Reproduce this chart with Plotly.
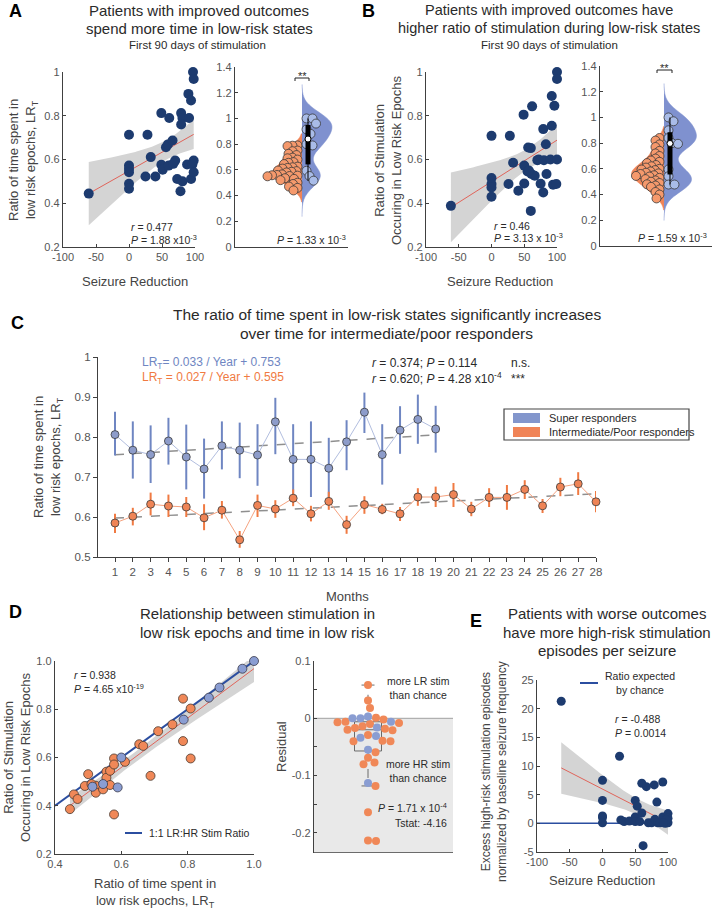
import numpy as np
import plotly.graph_objects as go

# ---------------- data ----------------
# Panel A: seizure reduction (%) vs ratio of time spent in low-risk epochs
a_reduction = [-61, 0, 0, 0, 0, 0, 0, 28, 33, 25, 40, 49, 61, 49, 51, 60, 56, 59, 66, 70, 67,
               79, 81, 79, 73, 81, 78, 90, 94, 91, 97, 98, 88, 98, 96, 94, 98]
a_ratio = [0.444, 0.713, 0.572, 0.557, 0.542, 0.489, 0.466, 0.713, 0.611, 0.522, 0.522, 0.812, 0.79,
           0.576, 0.553, 0.572, 0.656, 0.669, 0.687, 0.595, 0.58, 0.812, 0.79, 0.76, 0.511, 0.50,
           0.455, 0.90, 0.87, 0.79, 1.0, 0.968, 0.577, 0.595, 0.577, 0.511, 0.542]
a_vio_super = [1.0, 1.0, 0.96, 0.915, 0.88, 0.80, 0.79, 0.593, 0.552, 0.516]
a_vio_ip = [0.79, 0.788, 0.785, 0.75, 0.745, 0.725, 0.715, 0.695, 0.69, 0.68, 0.66, 0.655, 0.645,
            0.625, 0.62, 0.615, 0.61, 0.595, 0.59, 0.585, 0.58, 0.565, 0.56, 0.558, 0.555, 0.552,
            0.55, 0.535, 0.53, 0.52, 0.50, 0.49, 0.47, 0.46, 0.44]

# Panel B: seizure reduction vs ratio of stimulation occurring in low-risk epochs
b_reduction = [-62, 0, 0, 0, 0, 0, 28, 33, 26, 41, 50, 50, 55, 56, 60, 60, 61, 66, 70, 72, 75, 79,
               84, 80, 90, 100, 83, 94, 99, 49, 62, 79, 92, 92, 96, 100, 100, 57]
b_ratio = [0.388, 0.708, 0.515, 0.488, 0.472, 0.43, 0.708, 0.585, 0.488, 0.457, 0.49, 0.572, 0.545,
           0.655, 0.652, 0.365, 0.534, 0.526, 0.597, 0.6, 0.489, 0.449, 0.534, 0.597, 0.6, 0.6,
           0.67, 0.485, 0.488, 0.805, 0.843, 0.739, 0.754, 0.89, 0.846, 1.0, 0.968, 0.55]
b_vio_super = [1.0, 0.97, 0.90, 0.84, 0.80, 0.795, 0.596, 0.543, 0.478, 0.478]
b_vio_ip = [0.84, 0.82, 0.79, 0.77, 0.74, 0.72, 0.70, 0.68, 0.665, 0.655, 0.645, 0.63, 0.62, 0.61,
            0.60, 0.595, 0.59, 0.58, 0.57, 0.565, 0.56, 0.55, 0.545, 0.54, 0.53, 0.52, 0.51, 0.50,
            0.49, 0.48, 0.47, 0.46, 0.44, 0.42, 0.40, 0.37]

# Panel C: monthly LR_T (mean and error bar limits)
months_super = list(range(1, 20))
c_super_mean = [0.806, 0.767, 0.756, 0.79, 0.75, 0.72, 0.778, 0.767, 0.755, 0.838, 0.744, 0.744,
                0.722, 0.788, 0.862, 0.756, 0.817, 0.844, 0.82]
c_super_hi = [0.863, 0.839, 0.829, 0.848, 0.831, 0.796, 0.839, 0.836, 0.832, 0.898, 0.832, 0.839,
              0.798, 0.842, 0.911, 0.832, 0.877, 0.906, 0.878]
c_super_lo = [0.754, 0.696, 0.685, 0.731, 0.669, 0.646, 0.719, 0.697, 0.678, 0.757, 0.65, 0.65,
              0.645, 0.717, 0.81, 0.681, 0.758, 0.783, 0.761]
months_ip = list(range(1, 29))
c_ip_mean = [0.585, 0.602, 0.632, 0.6275, 0.625, 0.598, 0.617, 0.543, 0.629, 0.62, 0.647, 0.608,
             0.639, 0.581, 0.631, 0.619, 0.608, 0.65, 0.65, 0.656, 0.62, 0.649, 0.649, 0.669,
             0.628, 0.675, 0.683, 0.638]
c_ip_hi = [0.608, 0.623, 0.661, 0.656, 0.65, 0.632, 0.64, 0.565, 0.656, 0.642, 0.669, 0.628, 0.663,
           0.603, 0.652, 0.633, 0.625, 0.672, 0.676, 0.685, 0.638, 0.672, 0.68, 0.692, 0.645,
           0.698, 0.712, 0.665]
c_ip_lo = [0.56, 0.579, 0.604, 0.6, 0.6, 0.567, 0.596, 0.523, 0.6, 0.598, 0.627, 0.589, 0.618,
           0.558, 0.608, 0.607, 0.59, 0.628, 0.625, 0.625, 0.602, 0.625, 0.618, 0.645, 0.61,
           0.652, 0.655, 0.612]
trend_super = (0.033, 0.753)   # slope per year, intercept
trend_ip = (0.027, 0.595)

# Panel D: LR_T vs ratio of stimulation in low-risk epochs
d_ip_time = [0.445, 0.457, 0.468, 0.49, 0.50, 0.523, 0.523, 0.545, 0.555, 0.555, 0.566, 0.566,
             0.578, 0.578, 0.578, 0.611, 0.654, 0.666, 0.688, 0.711, 0.754, 0.786, 0.786, 0.809,
             0.809, 0.51]
d_ip_stim = [0.386, 0.447, 0.428, 0.482, 0.531, 0.483, 0.454, 0.468, 0.541, 0.516, 0.545, 0.486,
             0.596, 0.571, 0.364, 0.582, 0.655, 0.648, 0.524, 0.709, 0.737, 0.844, 0.668, 0.803,
             0.596, 0.49]
d_super_time = [0.513, 0.545, 0.589, 0.60, 0.788, 0.864, 0.896, 0.965, 1.0]
d_super_stim = [0.479, 0.49, 0.476, 0.60, 0.757, 0.848, 0.89, 0.968, 1.0]

# Panel E: seizure reduction vs excess high-risk stimulation episodes
e_reduction = [-63, 26, 0, 0, 0, 0, 0, 28, 33, 41, 50, 53, 50, 50, 60, 67, 60, 57, 70, 75, 79, 83,
               80, 84, 92, 92, 96, 100, 100, 100, 97, 62, 88, 93]
e_excess = [21.3, 11.7, 7.5, 4.0, 1.3, 1.0, 0.1, 0.6, 0.3, 0.4, 4.0, 3.0, 1.1, 0.3, 7.0, 6.4, 1.8,
            0.3, 0.1, 0.1, 6.7, 3.7, 0.7, 0.1, 7.2, 1.1, 0.0, 1.7, 0.9, 0.1, 0.6, -3.9, 0.1, 0.1]

# ---------------- styling ----------------
W, H = 713, 911
FONT = "Liberation Sans, Arial, sans-serif"
NARROW = "Liberation Sans Narrow, Liberation Sans, Arial, sans-serif"
NAVY = '#1d3b6f'
REG = '#e0645a'
CI = '#d4d4d4'
AXIS = '#404040'
TICK = '#555555'
TXT = '#2a2a2a'
V_BLUE = '#7f91cf'
V_ORANGE = '#f08457'
VP_BLUE = '#a9bce8'
VP_ORANGE = '#f5996c'
PT_ORANGE = '#f08858'
PT_BLUE = '#8a9dd2'
LINE_BLUE = '#2b4ea0'

fig = go.Figure()
anns = []
shapes = []


def px(x):
    return x / W


def py(y):
    return 1 - y / H


def T(text, x, y, size=11, color=TXT, xa='center', ya='middle', angle=0, family=FONT):
    anns.append(dict(text=text, x=px(x), y=py(y), xref='paper', yref='paper', showarrow=False,
                     xanchor=xa, yanchor=ya, textangle=angle,
                     font=dict(size=size, color=color, family=family)))


def L(x0, y0, x1, y1, color=AXIS, width=1, dash=None):
    shapes.append(dict(type='line', xref='paper', yref='paper', x0=px(x0), y0=py(y0),
                       x1=px(x1), y1=py(y1), line=dict(color=color, width=width, dash=dash)))


def ols_band(x, y, n_pts=80):
    x = np.asarray(x, float)
    y = np.asarray(y, float)
    b, a = np.polyfit(x, y, 1)
    n = len(x)
    s = np.sqrt(np.sum((y - (a + b * x)) ** 2) / (n - 2))
    sxx = np.sum((x - x.mean()) ** 2)
    xs = np.linspace(x.min(), x.max(), n_pts)
    fit = a + b * xs
    h = 2.03 * s * np.sqrt(1 / n + (xs - x.mean()) ** 2 / sxx)
    return xs, fit, fit - h, fit + h


def swarm(vals, ppu_y, d, side):
    vals = np.asarray(vals, float)
    ys = vals * ppu_y
    order = np.argsort(-vals, kind='stable')
    if side == 0:
        cands = [0.0] + [s * k * 0.5 for k in range(1, 400) for s in (1, -1)]
    else:
        cands = [side * (4.5 + k * 0.5) for k in range(0, 400)]
    placed = []
    offs = np.zeros(len(vals))
    for i in order:
        c = cands[-1]
        for c in cands:
            if all((c - qx) ** 2 + (ys[i] - qy) ** 2 >= d * d for qy, qx in placed):
                break
        offs[i] = c
        placed.append((ys[i], c))
    return offs


def add_reg(x, y, xa, ya):
    xs, fit, lo, hi = ols_band(x, y)
    fig.add_trace(go.Scatter(x=np.concatenate([xs, xs[::-1]]), y=np.concatenate([lo, hi[::-1]]),
                             fill='toself', fillcolor=CI, line=dict(width=0), mode='lines',
                             hoverinfo='skip', xaxis=xa, yaxis=ya))
    fig.add_trace(go.Scatter(x=xs, y=fit, mode='lines', line=dict(color=REG, width=1),
                             hoverinfo='skip', xaxis=xa, yaxis=ya))


def add_violin_panel(ip_vals, sup_vals, xa, ya, px_per_x, px_per_y, width):
    bw_ip, bw_sup = 0.045, 0.08
    ip = np.asarray(ip_vals)
    sp = np.asarray(sup_vals)
    fig.add_trace(go.Violin(y=ip, x0=0, side='negative', width=width, bandwidth=bw_ip,
                            spanmode='manual', span=[ip.min() - 2 * bw_ip, ip.max() + 2 * bw_ip],
                            points=False, fillcolor=V_ORANGE, line=dict(color=V_ORANGE, width=0.5),
                            opacity=1, scalemode='width', hoverinfo='skip', xaxis=xa, yaxis=ya))
    fig.add_trace(go.Violin(y=sp, x0=0, side='positive', width=width, bandwidth=bw_sup,
                            spanmode='manual', span=[sp.min() - 3.5 * bw_sup, sp.max() + 3.3 * bw_sup],
                            points=False, fillcolor=V_BLUE, line=dict(color=V_BLUE, width=0.5),
                            opacity=1, scalemode='width', hoverinfo='skip', xaxis=xa, yaxis=ya))
    d = 9
    off_ip = swarm(ip, px_per_y, 4.6, -1) / px_per_x
    off_sp = swarm(sp, px_per_y, 6.0, 1) / px_per_x
    fig.add_trace(go.Scatter(x=off_ip, y=ip, mode='markers', cliponaxis=False,
                             marker=dict(size=d, color=VP_ORANGE, line=dict(color='#3a3a3a', width=0.8)),
                             hoverinfo='skip', xaxis=xa, yaxis=ya))
    fig.add_trace(go.Scatter(x=off_sp, y=sp, mode='markers', cliponaxis=False,
                             marker=dict(size=d, color=VP_BLUE, line=dict(color='#3a3a3a', width=0.8)),
                             hoverinfo='skip', xaxis=xa, yaxis=ya))
    # box summary for super responders
    q1, med, q3 = np.percentile(sp, [25, 50, 75])
    bx = 6 / px_per_x
    fig.add_trace(go.Scatter(x=[bx, bx], y=[sp.min(), sp.max()], mode='lines',
                             line=dict(color='black', width=1), hoverinfo='skip', xaxis=xa, yaxis=ya))
    fig.add_trace(go.Scatter(x=[bx, bx], y=[q1, q3], mode='lines',
                             line=dict(color='black', width=5), hoverinfo='skip', xaxis=xa, yaxis=ya))
    fig.add_trace(go.Scatter(x=[bx], y=[med], mode='markers', cliponaxis=False,
                             marker=dict(size=6, color='white', line=dict(color='black', width=1)),
                             hoverinfo='skip', xaxis=xa, yaxis=ya))


# ---------- Panel A ----------
add_reg(a_reduction, a_ratio, 'x', 'y')
fig.add_trace(go.Scatter(x=a_reduction, y=a_ratio, mode='markers', cliponaxis=False,
                         marker=dict(size=10, color=NAVY), hoverinfo='skip', xaxis='x', yaxis='y'))
add_violin_panel(a_vio_ip, a_vio_super, 'x2', 'y2', 113 / 2.457, 180 / 1.4, 1.3)

# ---------- Panel B ----------
add_reg(b_reduction, b_ratio, 'x3', 'y3')
fig.add_trace(go.Scatter(x=b_reduction, y=b_ratio, mode='markers', cliponaxis=False,
                         marker=dict(size=10, color=NAVY), hoverinfo='skip', xaxis='x3', yaxis='y3'))
add_violin_panel(b_vio_ip, b_vio_super, 'x4', 'y4', 112 / 2.333, 180 / 1.4, 1.35)

# ---------- Panel C ----------
ms = np.asarray(months_super)
mi = np.asarray(months_ip)
fig.add_trace(go.Scatter(x=ms, y=trend_super[1] + trend_super[0] * ms / 12, mode='lines',
                         line=dict(color='#8f8f8f', width=1.5, dash='dash'), hoverinfo='skip',
                         xaxis='x5', yaxis='y5'))
fig.add_trace(go.Scatter(x=mi, y=trend_ip[1] + trend_ip[0] * mi / 12, mode='lines',
                         line=dict(color='#8f8f8f', width=1.5, dash='dash'), hoverinfo='skip',
                         xaxis='x5', yaxis='y5'))
for m, mean, hi, lo, ecol, lcol, mcol in [
        (ms, c_super_mean, c_super_hi, c_super_lo, '#6f86c2', '#b2bedf', '#8d9cca'),
        (mi, c_ip_mean, c_ip_hi, c_ip_lo, '#f07a42', '#f5a27f', '#ef8456')]:
    mean = np.asarray(mean)
    fig.add_trace(go.Scatter(x=m, y=mean, mode='lines+markers', cliponaxis=False,
                             line=dict(color=lcol, width=1),
                             marker=dict(size=8, color=mcol, line=dict(color='#3b3b3b', width=0.8)),
                             error_y=dict(type='data', symmetric=False, array=np.asarray(hi) - mean,
                                          arrayminus=mean - np.asarray(lo), thickness=2, width=0,
                                          color=ecol),
                             hoverinfo='skip', xaxis='x5', yaxis='y5'))

# ---------- Panel D (scatter) ----------
all_time = d_ip_time + d_super_time
all_stim = d_ip_stim + d_super_stim
d_xrange = [0.4, 1.0]
add_reg(all_time, all_stim, 'x6', 'y6')
fig.add_trace(go.Scatter(x=d_xrange, y=d_xrange, mode='lines', line=dict(color=LINE_BLUE, width=2),
                         hoverinfo='skip', xaxis='x6', yaxis='y6'))
fig.add_trace(go.Scatter(x=d_ip_time, y=d_ip_stim, mode='markers', cliponaxis=False,
                         marker=dict(size=9, color=PT_ORANGE, line=dict(color='#4a3a30', width=0.8)),
                         hoverinfo='skip', xaxis='x6', yaxis='y6'))
fig.add_trace(go.Scatter(x=d_super_time, y=d_super_stim, mode='markers', cliponaxis=False,
                         marker=dict(size=9, color=PT_BLUE, line=dict(color='#3a3a4a', width=0.8)),
                         hoverinfo='skip', xaxis='x6', yaxis='y6'))

# ---------- Panel D (residual swarm, box drawn from quartiles) ----------
# x7 is a pixel-unit axis spanning the full figure width; the swarm is centred at pixel 368
res_ip = np.asarray(d_ip_stim) - np.asarray(d_ip_time)
res_sup = np.asarray(d_super_stim) - np.asarray(d_super_time)
res_all = np.concatenate([res_ip, res_sup])
CX = 368.0
res_x = CX + swarm(res_all, 570, 7.6, 0)
n_ip = len(res_ip)
q1, q2, q3 = np.percentile(res_all, [25, 50, 75])
iqr = q3 - q1
w_hi = res_all[res_all <= q3 + 1.5 * iqr].max()
w_lo = res_all[res_all >= q1 - 1.5 * iqr].min()
bh, ch = 13.5, 6.5
BOXC = '#6a6a6a'
fig.add_trace(go.Scatter(x=[CX - bh, CX + bh, CX + bh, CX - bh, CX - bh], y=[q1, q1, q3, q3, q1],
                         mode='lines', line=dict(color=BOXC, width=1), hoverinfo='skip',
                         xaxis='x7', yaxis='y7'))
fig.add_trace(go.Scatter(x=[CX - bh, CX + bh], y=[q2, q2], mode='lines',
                         line=dict(color=BOXC, width=1), hoverinfo='skip', xaxis='x7', yaxis='y7'))
fig.add_trace(go.Scatter(x=[CX, CX, None, CX, CX], y=[q3, w_hi, None, q1, w_lo], mode='lines',
                         line=dict(color=BOXC, width=1, dash='dash'), hoverinfo='skip',
                         xaxis='x7', yaxis='y7'))
fig.add_trace(go.Scatter(x=[CX - ch, CX + ch, None, CX - ch, CX + ch], y=[w_hi, w_hi, None, w_lo, w_lo],
                         mode='lines', line=dict(color=BOXC, width=1), hoverinfo='skip',
                         xaxis='x7', yaxis='y7'))
fig.add_trace(go.Scatter(x=res_x[:n_ip], y=res_ip, mode='markers', cliponaxis=False,
                         marker=dict(size=8, color=PT_ORANGE), hoverinfo='skip', xaxis='x7', yaxis='y7'))
fig.add_trace(go.Scatter(x=res_x[n_ip:], y=res_sup, mode='markers', cliponaxis=False,
                         marker=dict(size=8, color=PT_BLUE), hoverinfo='skip', xaxis='x7', yaxis='y7'))

# ---------- Panel E ----------
e_xrange = [-100, 100]
add_reg(e_reduction, e_excess, 'x8', 'y8')
fig.add_trace(go.Scatter(x=e_xrange, y=[0, 0], mode='lines', line=dict(color=LINE_BLUE, width=1.5),
                         hoverinfo='skip', xaxis='x8', yaxis='y8'))
fig.add_trace(go.Scatter(x=e_reduction, y=e_excess, mode='markers', cliponaxis=False,
                         marker=dict(size=9, color=NAVY), hoverinfo='skip', xaxis='x8', yaxis='y8'))


# ---------------- axes ----------------
def ax(x0, x1, rng, anchor, **kw):
    d = dict(domain=[px(x0), px(x1)], range=rng, anchor=anchor, showline=True, linecolor=AXIS,
             linewidth=1.3, ticks='inside', ticklen=3, tickcolor=AXIS, tickwidth=1, showgrid=False,
             zeroline=False, tickfont=dict(size=11, color=TICK, family=FONT), fixedrange=True,
             automargin=False)
    d.update(kw)
    return d


def ay(y_bottom, y_top, rng, anchor, **kw):
    d = dict(domain=[py(y_bottom), py(y_top)], range=rng, anchor=anchor, showline=True,
             linecolor=AXIS, linewidth=1.3, ticks='inside', ticklen=3, tickcolor=AXIS, tickwidth=1,
             showgrid=False, zeroline=False, tickfont=dict(size=11, color=TICK, family=FONT),
             fixedrange=True, automargin=False)
    d.update(kw)
    return d


red_ticks = [-100, -50, 0, 50, 100]
red_text = ['-100', '-50', '0', '50', '100']
lay = dict(
    xaxis=ax(63, 195, [-100, 100], 'y', tickvals=red_ticks, ticktext=red_text),
    yaxis=ay(247, 72, [0.2, 1.0], 'x', tickvals=[0.2, 0.4, 0.6, 0.8, 1.0],
             ticktext=['0.2', '0.4', '0.6', '0.8', '1']),
    xaxis2=ax(235, 348, [-1.457, 1], 'y2', ticks='', showticklabels=False, type='linear'),
    yaxis2=ay(247, 67, [0, 1.4], 'x2', tickvals=[0, 0.2, 0.4, 0.6, 0.8, 1, 1.2, 1.4],
              ticktext=['0', '0.2', '0.4', '0.6', '0.8', '1', '1.2', '1.4']),
    xaxis3=ax(426, 557, [-100, 100], 'y3', tickvals=red_ticks, ticktext=red_text),
    yaxis3=ay(247, 72, [0.2, 1.0], 'x3', tickvals=[0.2, 0.4, 0.6, 0.8, 1.0],
              ticktext=['0.2', '0.4', '0.6', '0.8', '1']),
    xaxis4=ax(600, 712, [-1.333, 1], 'y4', ticks='', showticklabels=False, type='linear'),
    yaxis4=ay(246, 66, [0, 1.4], 'x4', tickvals=[0, 0.2, 0.4, 0.6, 0.8, 1, 1.2, 1.4],
              ticktext=['0', '0.2', '0.4', '0.6', '0.8', '1', '1.2', '1.4']),
    xaxis5=ax(98, 596, [0.046, 28], 'y5', tickvals=months_ip, ticks='outside', ticklen=4,
              tickfont=dict(size=11.5, color=TICK, family=NARROW)),
    yaxis5=ay(557, 357, [0.5, 1.0], 'x5', tickvals=[0.5, 0.6, 0.7, 0.8, 0.9, 1.0],
              ticktext=['0.5', '0.6', '0.7', '0.8', '0.9', '1'], ticks='outside', ticklen=4,
              tickfont=dict(size=11.5, color=TICK, family=NARROW)),
    xaxis6=ax(55, 254, [0.4, 1.0], 'y6', tickvals=[0.4, 0.6, 0.8, 1.0],
              ticktext=['0.4', '0.6', '0.8', '1.0']),
    yaxis6=ay(854, 661, [0.2, 1.0], 'x6', tickvals=[0.2, 0.4, 0.6, 0.8, 1.0],
              ticktext=['0.2', '0.4', '0.6', '0.8', '1.0']),
    xaxis7=dict(domain=[0, 1], range=[0, W], anchor='y7', visible=False, fixedrange=True,
                automargin=False),
    yaxis7=ay(853, 661, [-0.235, 0.1], 'free', position=px(313), tickvals=[0.1, 0, -0.1, -0.2],
              ticktext=['0.1', '0', '-0.1', '-0.2'],
              minor=dict(dtick=0.05, ticks='inside', ticklen=3, tickcolor=AXIS)),
    xaxis8=ax(537, 668, [-100, 100], 'y8', tickvals=red_ticks, ticktext=red_text),
    yaxis8=ay(852, 680, [-5, 25], 'x8', tickvals=[-5, 0, 5, 10, 15, 20, 25],
              ticktext=['-5', '0', '5', '10', '15', '20', '25']),
)

# grey "more HR stim" region in residual panel + bottom axis line
shapes.append(dict(type='rect', xref='paper', yref='y7', x0=px(313), x1=px(453), y0=-0.235, y1=0,
                   fillcolor='#e9e9e9', line=dict(width=0), layer='below'))
shapes.append(dict(type='line', xref='paper', yref='y7', x0=px(313), x1=px(453), y0=0, y1=0,
                   line=dict(color='#a0a0a0', width=1), layer='below'))
shapes.append(dict(type='line', xref='paper', yref='y7', x0=px(313), x1=px(453), y0=-0.235,
                   y1=-0.235, line=dict(color=AXIS, width=1.3)))

# ---------------- texts ----------------
for letter, x, y in [('A', 15, 11), ('B', 368, 11), ('C', 17, 323), ('D', 15, 612), ('E', 476, 621)]:
    T('<b>%s</b>' % letter, x, y, size=18, color='black')

T('Patients with improved outcomes', 199, 10, size=15)
T('spend more time in low-risk states', 199, 28, size=15)
T('First 90 days of stimulation', 197, 45, size=11.5)
T('Patients with improved outcomes have', 549, 10, size=14.5)
T('higher ratio of stimulation during low-risk states', 549, 28, size=14.5)
T('First 90 days of stimulation', 549, 45, size=11.5)
T('The ratio of time spent in low-risk states significantly increases', 387, 315, size=15.5)
T('over time for intermediate/poor responders', 387, 333, size=15.5)
T('Relationship between stimulation in', 257, 613, size=15)
T('low risk epochs and time in low risk', 257, 632, size=15)
T('Patients with worse outcomes', 607, 613, size=15)
T('have more high-risk stimulation', 607, 632, size=15)
T('episodes per seizure', 607, 650, size=15)

T('Ratio of time spent in<br>low risk epochs, LR<sub>T</sub>', 23, 160, size=13, color='#444', angle=-90)
T('Seizure Reduction', 135, 282, size=13, color='#444')
T('Ratio of Stimulation<br>Occuring in Low Risk Epochs', 388, 160, size=13, color='#444', angle=-90)
T('Seizure Reduction', 500, 281, size=13, color='#444')
T('Ratio of time spent in<br>low risk epochs, LR<sub>T</sub>', 48, 457, size=13, color='#444', angle=-90)
T('Months', 347, 596, size=13, color='#444')
T('Ratio of Stimulation<br>Occuring in Low Risk Epochs', 17, 757, size=13, color='#444', angle=-90)
T('Ratio of time spent in<br>low risk epochs, LR<sub>T</sub>', 155, 893, size=13, color='#444')
T('Residual', 281, 747, size=13, color='#444', angle=-90)
T('Excess high-risk stimulation episodes<br>normalized by baseline seizure frequency', 494, 772,
  size=12, color='#444', angle=-90)
T('Seizure Reduction', 602, 880, size=13, color='#444')

T('<i>r</i> = 0.477', 129, 227, size=10.5, xa='left')
T('<i>P</i> = 1.88 x10<sup>-3</sup>', 129, 239, size=10.5, xa='left')
T('<i>P</i> = 1.33 x 10<sup>-3</sup>', 348, 239, size=10.5, xa='right')
T('**', 302, 76, size=11)
L(295, 78, 309, 78, color='#222', width=1)
L(295, 78, 295, 81, color='#222', width=1)
L(309, 78, 309, 81, color='#222', width=1)
T('<i>r</i> = 0.46', 492, 226, size=10.5, xa='left')
T('<i>P</i> = 3.13 x 10<sup>-3</sup>', 492, 238, size=10.5, xa='left')
T('<i>P</i> = 1.59 x 10<sup>-3</sup>', 709, 237, size=10.5, xa='right')
T('**', 664, 68, size=11)
L(657, 70, 672, 70, color='#222', width=1)
L(657, 70, 657, 73, color='#222', width=1)
L(672, 70, 672, 73, color='#222', width=1)

T('LR<sub>T</sub>= 0.033 / Year + 0.753', 140, 363, size=12, color='#6f86c2', xa='left', family=NARROW)
T('LR<sub>T</sub> = 0.027 / Year + 0.595', 140, 378, size=12, color='#f07a42', xa='left', family=NARROW)
T('<i>r</i> = 0.374; <i>P</i> = 0.114', 370, 363, size=12, xa='left', family=NARROW)
T('<i>r</i> = 0.620; <i>P</i> = 4.28 x10<sup>-4</sup>', 370, 378, size=12, xa='left', family=NARROW)
T('n.s.', 509, 363, size=12, xa='left', family=NARROW)
T('***', 509, 379, size=12, xa='left', family=NARROW)

shapes.append(dict(type='rect', xref='paper', yref='paper', x0=px(504), x1=px(689), y0=py(440),
                   y1=py(409), line=dict(color='#444', width=1.2), fillcolor='white'))
shapes.append(dict(type='rect', xref='paper', yref='paper', x0=px(513), x1=px(540), y0=py(423),
                   y1=py(413), line=dict(width=0), fillcolor='#8396cc'))
shapes.append(dict(type='rect', xref='paper', yref='paper', x0=px(513), x1=px(540), y0=py(437),
                   y1=py(427), line=dict(width=0), fillcolor='#f08457'))
T('Super responders', 547, 418, size=11, xa='left', family=NARROW)
T('Intermediate/Poor responders', 547, 432, size=11, xa='left', family=NARROW)

T('<i>r</i> = 0.938', 72, 675, size=10.5, xa='left')
T('<i>P</i> = 4.65 x10<sup>-19</sup>', 72, 688, size=10.5, xa='left')
L(125, 833, 142, 833, color=LINE_BLUE, width=2)
T('1:1 LR:HR Stim Ratio', 147, 833, size=10.5, xa='left')
T('more LR stim<br>than chance', 418, 688, size=10.5)
T('more HR stim<br>than chance', 418, 771, size=10.5)
T('<i>P</i> = 1.71 x 10<sup>-4</sup>', 449, 807, size=10.5, xa='right')
T('Tstat: -4.16', 449, 823, size=10.5, xa='right')

L(580, 683, 598, 683, color=LINE_BLUE, width=2)
T('Ratio expected<br>by chance', 640, 683, size=10.5)
T('<i>r</i> = -0.488', 613, 719, size=10.5, xa='left')
T('<i>P</i> = 0.0014', 613, 733, size=10.5, xa='left')

fig.update_layout(width=W, height=H, margin=dict(l=0, r=0, t=0, b=0), paper_bgcolor='white',
                  plot_bgcolor='rgba(0,0,0,0)', showlegend=False, violinmode='overlay',
                  violingap=0, font=dict(family=FONT),
                  annotations=anns, shapes=shapes, **lay)

fig.write_html("out.html", config={'displayModeBar': False},
               post_script="document.body.style.margin='0';document.body.style.overflow='hidden';")
